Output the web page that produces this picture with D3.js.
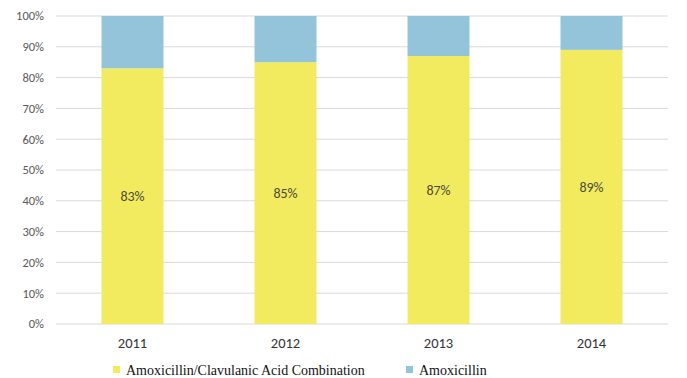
<!DOCTYPE html>
<html><head><meta charset="utf-8">
<script src="https://cdn.jsdelivr.net/npm/d3@7"></script>
<style>body{margin:0;background:#fff}svg{display:block}</style>
</head><body>
<svg id="c" width="687" height="378"></svg>
<script>
const years = ["2011","2012","2013","2014"];
const combo = [0.83,0.85,0.87,0.89];
const amox = [0.17,0.15,0.13,0.11];
const yTicks = [0,0.1,0.2,0.3,0.4,0.5,0.6,0.7,0.8,0.9,1.0];
const seriesNames = ["Amoxicillin/Clavulanic Acid Combination","Amoxicillin"];
const colors = ["#F2EB5F","#93C4DA"];

const svg = d3.select("#c");
const x = d3.scaleBand().domain(years).range([56,668]).padding(0);
const y = d3.scaleLinear().domain([0,1]).range([324,16]);
const barW = x.bandwidth()*0.405;
const sans = "Carlito, Lato, 'Open Sans', sans-serif";

svg.append("g").selectAll("line").data(yTicks).join("line")
  .attr("x1",56).attr("x2",668).attr("y1",d=>y(d)).attr("y2",d=>y(d))
  .attr("stroke","#D9D9D9").attr("stroke-width",1);

svg.append("g").selectAll("text").data(yTicks).join("text")
  .attr("x",44).attr("y",d=>y(d)).attr("dy","0.35em").attr("text-anchor","end")
  .attr("font-family",sans).attr("font-size",12.5).attr("fill","#595959")
  .text(d=>d3.format(".0%")(d));

const g = svg.append("g");
years.forEach((yr,i)=>{
  const cx = x(yr)+x.bandwidth()/2;
  g.append("rect").attr("x",cx-barW/2).attr("width",barW)
    .attr("y",y(combo[i])).attr("height",y(0)-y(combo[i])).attr("fill",colors[0]);
  g.append("rect").attr("x",cx-barW/2).attr("width",barW)
    .attr("y",y(combo[i]+amox[i])).attr("height",y(combo[i])-y(combo[i]+amox[i])).attr("fill",colors[1]);
  g.append("text").attr("x",cx).attr("y",y(combo[i]/2)).attr("dy","0.35em").attr("text-anchor","middle")
    .attr("font-family",sans).attr("font-size",14).attr("fill","#4a4a3a")
    .text(d3.format(".0%")(combo[i]));
  g.append("text").attr("x",cx).attr("y",343).attr("dy","0.35em").attr("text-anchor","middle")
    .attr("font-family",sans).attr("font-size",14.5).attr("fill","#333")
    .text(yr);
});

const legX = [113,406];
seriesNames.forEach((n,i)=>{
  svg.append("rect").attr("x",legX[i]).attr("y",366).attr("width",7).attr("height",7).attr("fill",colors[i]);
  svg.append("text").attr("x",legX[i]+13).attr("y",375)
    .attr("font-family","'Liberation Serif', 'Times New Roman', serif").attr("font-size",14).attr("fill","#111")
    .text(n);
});
</script>
</body></html>
